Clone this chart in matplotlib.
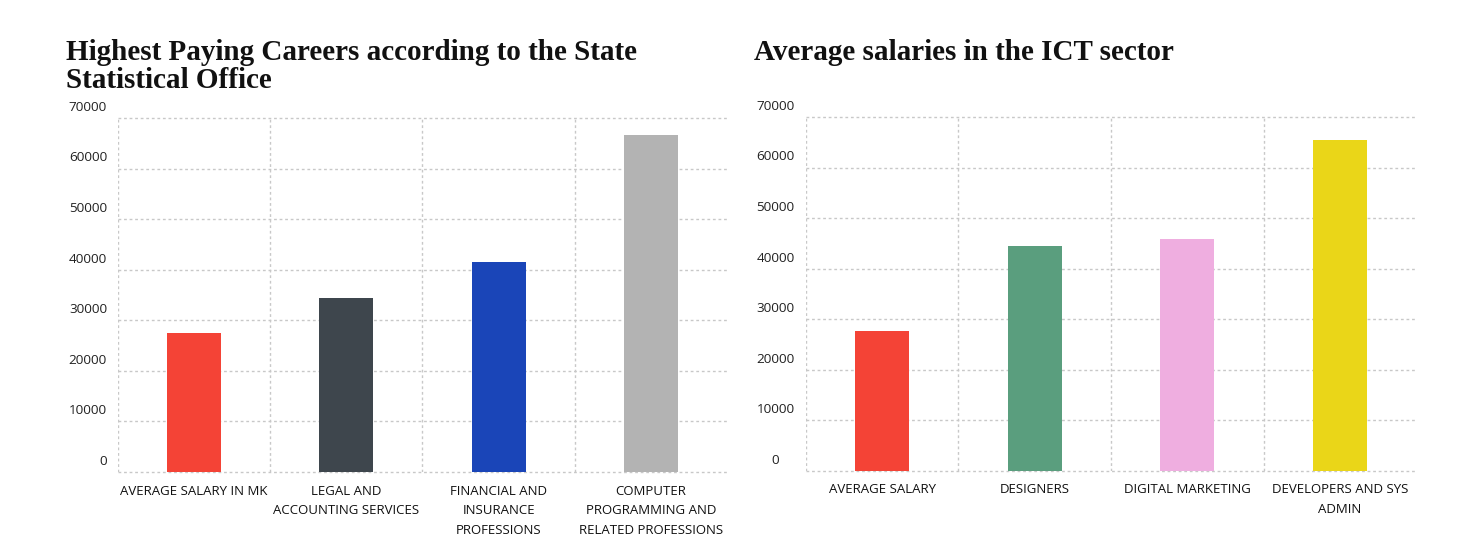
import numpy as np
import matplotlib.pyplot as plt
from matplotlib.transforms import ScaledTranslation

# data
left_title = "Highest Paying Careers according to the State\nStatistical Office"
left_cats = ["AVERAGE SALARY IN MK", "LEGAL AND\nACCOUNTING SERVICES",
             "FINANCIAL AND\nINSURANCE\nPROFESSIONS",
             "COMPUTER\nPROGRAMMING AND\nRELATED PROFESSIONS"]
left_vals = [27500, 34400, 41500, 66600]
left_colors = ["#F44336", "#3E464D", "#1A45B8", "#B3B3B3"]

right_title = "Average salaries in the ICT sector"
right_cats = ["AVERAGE SALARY", "DESIGNERS", "DIGITAL MARKETING",
              "DEVELOPERS AND SYS\nADMIN"]
right_vals = [27600, 44400, 45800, 65400]
right_colors = ["#F44336", "#5A9E7E", "#EFAEE0", "#EAD618"]

y_ticks = np.arange(0, 70001, 10000)

fig = plt.figure(figsize=(14.84, 5.55), dpi=100)
ax1 = fig.add_axes([0.0795, 0.1495, 0.4104, 0.6378])
ax2 = fig.add_axes([0.5431, 0.1514, 0.4111, 0.6378])


def draw(ax, cats, vals, colors, title, tick_ha, tick_x):
    x = np.arange(len(cats))
    ax.bar(x, vals, width=0.355, color=colors, zorder=3)
    ax.set_xlim(-0.5, len(cats) - 0.5)
    ax.set_ylim(0, 70000)
    ax.set_yticks(y_ticks)
    ax.set_yticklabels([str(v) for v in y_ticks], fontfamily="Open Sans",
                       fontsize=9.7, color="#222222")
    ax.set_xticks(x)
    ax.set_xticklabels(cats, fontfamily="Open Sans", fontsize=9.5,
                       color="#111111", linespacing=1.68, va="top")
    ax.set_xticks(x - 0.5, minor=True)
    ax.tick_params(axis="x", which="both", length=0, pad=9)
    ax.tick_params(axis="y", length=0, pad=0)
    ax.grid(axis="y", which="major", color="#c8c8c8", linestyle=(0, (2, 2)),
            linewidth=1, zorder=0, clip_on=False)
    ax.grid(axis="x", which="minor", color="#c8c8c8", linestyle=(0, (2, 2)),
            linewidth=1, zorder=0)
    for s in ax.spines.values():
        s.set_visible(False)
    off = ScaledTranslation(0, 3 / 72, fig.dpi_scale_trans)
    for lab in ax.get_yticklabels():
        lab.set_va("bottom")
        lab.set_ha(tick_ha)
        lab.set_transform(ax.get_yaxis_transform() + off)
        lab.set_x(tick_x)
    fig.text(ax.get_position().x0 - 0.035, 0.93, title, fontfamily="Liberation Serif",
             fontweight="bold", fontsize=21, va="top", ha="left",
             linespacing=1.07, color="#111111")


draw(ax1, left_cats, left_vals, left_colors, left_title, "right", -0.018)
draw(ax2, right_cats, right_vals, right_colors, right_title, "center", -0.05)

fig.savefig("out.png", dpi=100, facecolor="white")
